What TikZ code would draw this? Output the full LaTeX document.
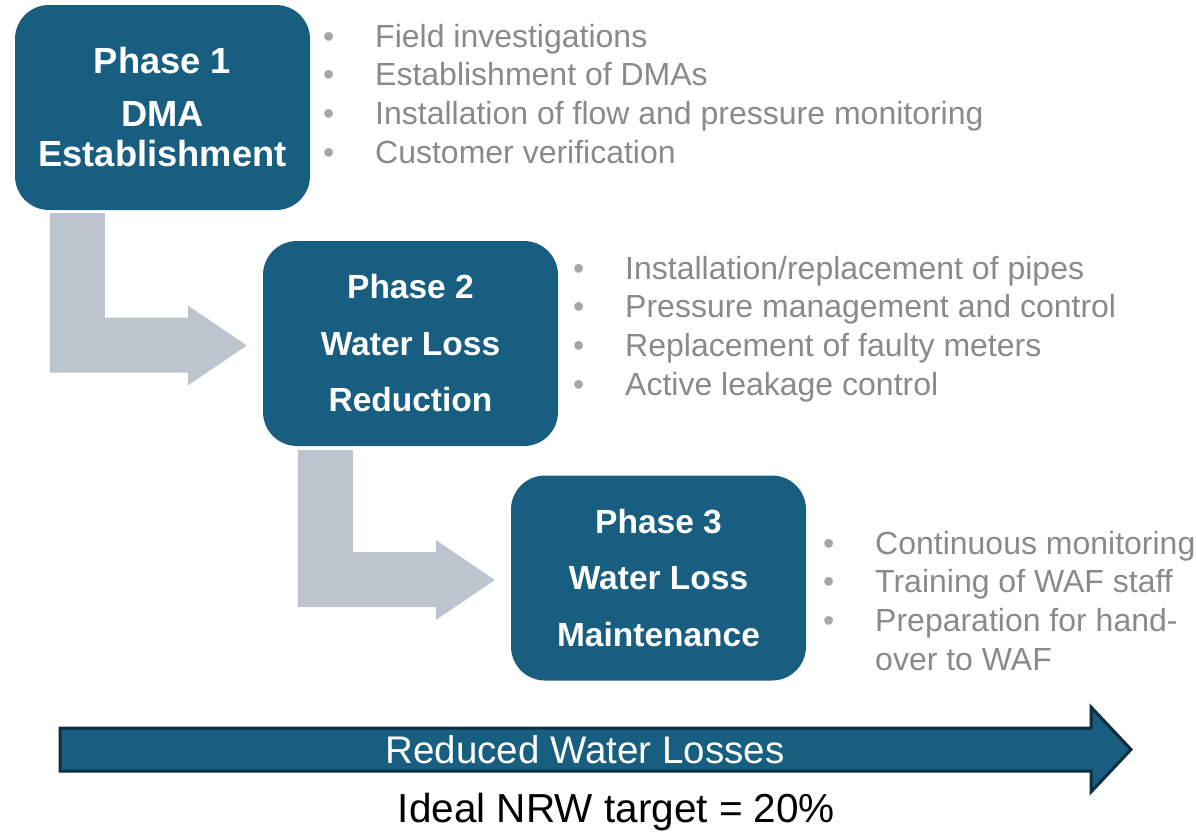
\documentclass[tikz,border=0pt]{standalone}
\usepackage{fontspec}
\setmainfont{Liberation Sans}
\definecolor{boxblue}{HTML}{185E80}
\definecolor{arrowgrey}{HTML}{BCC4CD}
\definecolor{textgray}{HTML}{8A8A8A}
\definecolor{bulletgray}{HTML}{A6A6A6}
\definecolor{darkline}{HTML}{0E2E40}
\tikzset{
  phasebox/.style={draw=none, fill=boxblue, rounded corners=34pt, minimum width=295pt,
    minimum height=205pt, inner sep=0pt, text=white, align=center},
  greyarrow/.style={fill=arrowgrey, draw=none},
  bulletlist/.style={anchor=base west, inner sep=0pt, text=textgray, align=left,
    font=\fontsize{32}{38.7}\selectfont},
  bigarrow/.style={fill=boxblue, draw=darkline, line width=3pt, line join=miter},
}
\newcommand{\blt}{\makebox[52pt][l]{\textcolor{bulletgray}{•}}}
\begin{document}
\begin{tikzpicture}[x=1pt,y=-1pt]
\useasboundingbox (0,0) rectangle (1196,833);

% phase boxes
\node[phasebox, font=\fontsize{36.3}{40}\selectfont\bfseries] (box1) at (162.5,107.5)
  {Phase 1\\[13pt]DMA\\Establishment};
\node[phasebox, font=\fontsize{33.5}{56.5}\selectfont\bfseries] (box2) at (410.5,343.5)
  {Phase 2\\Water Loss\\Reduction};
\node[phasebox, font=\fontsize{33.5}{56.5}\selectfont\bfseries] (box3) at (658.5,578)
  {Phase 3\\Water Loss\\Maintenance};

% grey L-shaped connectors
\coordinate (a1) at ([shift={(35,3)}]box1.south west);
\coordinate (t1) at ([shift={(-16,2)}]box2.west);
\coordinate (b1) at ([shift={(-59,27)}]t1);
\fill[greyarrow] (a1) -- ([shift={(55,0)}]a1) |- ([shift={(-59,-28)}]t1)
  -- ([shift={(-59,-40)}]t1) -- (t1) -- ([shift={(-59,40)}]t1) -- (b1) -- (a1 |- b1) -- cycle;

\coordinate (a2) at ([shift={(35,4)}]box2.south west);
\coordinate (t2) at ([shift={(-16,2)}]box3.west);
\coordinate (b2) at ([shift={(-59,27)}]t2);
\fill[greyarrow] (a2) -- ([shift={(55,0)}]a2) |- ([shift={(-59,-28)}]t2)
  -- ([shift={(-59,-40)}]t2) -- (t2) -- ([shift={(-59,40)}]t2) -- (b2) -- (a2 |- b2) -- cycle;

% bullet lists
\node[bulletlist] (list1) at (323,47) {\begin{tabular}[t]{@{}l@{}l@{}}
\blt & Field investigations\\
\blt & Establishment of DMAs\\
\blt & Installation of flow and pressure monitoring\\
\blt & Customer verification
\end{tabular}};
\node[bulletlist] (list2) at (573,279) {\begin{tabular}[t]{@{}l@{}l@{}}
\blt & Installation/replacement of pipes\\
\blt & Pressure management and control\\
\blt & Replacement of faulty meters\\
\blt & Active leakage control
\end{tabular}};
\node[bulletlist] (list3) at (823,554) {\begin{tabular}[t]{@{}l@{}l@{}}
\blt & Continuous monitoring\\
\blt & Training of WAF staff\\
\blt & Preparation for hand-\\
 & over to WAF
\end{tabular}};

% bottom arrow
\draw[bigarrow] (60,728) -- (1091,728) -- (1091,707) -- (1131,749.5) -- (1091,792)
  -- (1091,771) -- (60,771) -- cycle;
\node[text=white, inner sep=0pt, font=\fontsize{38.5}{40}\selectfont] (rwl) at (585,750)
  {Reduced Water Losses};
\node[text=black, inner sep=0pt, anchor=base, font=\fontsize{40.5}{44}\selectfont] (nrw)
  at (616.5,822) {Ideal NRW target = 20\%};
\end{tikzpicture}
\end{document}
